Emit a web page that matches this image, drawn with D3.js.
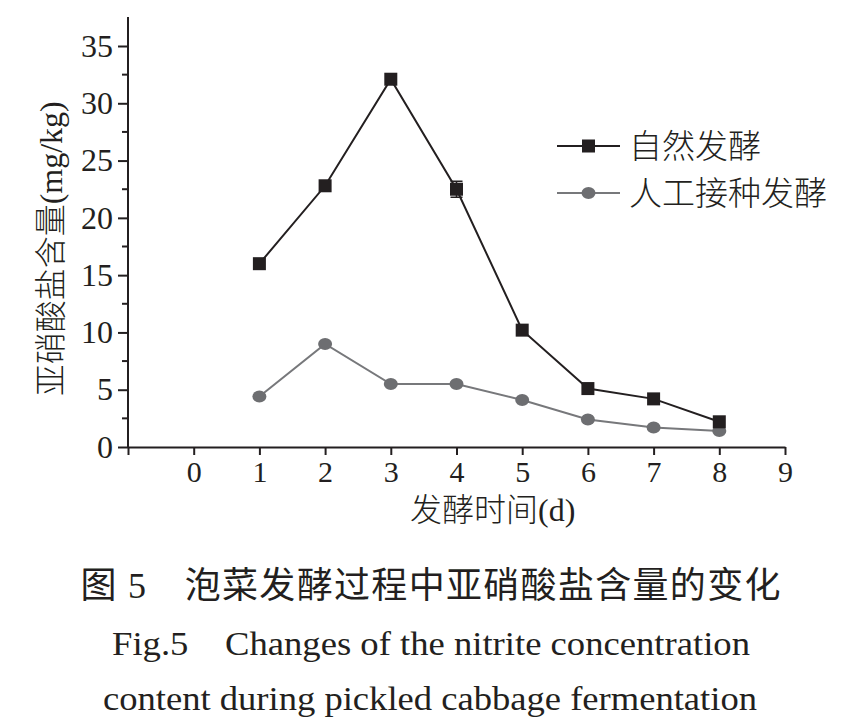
<!DOCTYPE html>
<html>
<head>
<meta charset="utf-8">
<script src="https://cdn.jsdelivr.net/npm/d3@7"></script>
<style>
  body { margin: 0; background: #fff; }
  svg { display: block; }
  .axis path, .axis line { stroke: #231f20; stroke-width: 2; }
  .axis text { font-family: "Liberation Serif", serif; fill: #231f20; }
</style>
</head>
<body>
<div id="chart-area"></div>
<script>
// data
var days = [1, 2, 3, 4, 5, 6, 7, 8];
var natural = [16.0, 22.8, 32.1, 22.5, 10.2, 5.1, 4.2, 2.2];
var naturalErr = [0, 0, 0, 0.7, 0, 0, 0, 0];
var inoculated = [4.4, 9.0, 5.5, 5.5, 4.1, 2.4, 1.7, 1.4];
var xTicks = [-1, 0, 1, 2, 3, 4, 5, 6, 7, 8, 9];
var xTickLabels = ["", "0", "1", "2", "3", "4", "5", "6", "7", "8", "9"];
var yTicks = [0, 5, 10, 15, 20, 25, 30, 35];
var yMinorTicks = [2.5, 7.5, 12.5, 17.5, 22.5, 27.5, 32.5];
var seriesNames = ["自然发酵", "人工接种发酵"];

var W = 867, H = 719;
var margin = {left: 128, top: 17, right: 82, bottom: 272};
var width = W - margin.left - margin.right,
    height = H - margin.top - margin.bottom;

var svg = d3.select("#chart-area")
    .append("svg")
        .attr("width", W)
        .attr("height", H);

var g = svg.append("g")
    .attr("transform", "translate(" + margin.left + ", " + margin.top + ")");

var x = d3.scaleLinear().domain([-1, 9]).range([0, width]);
// top of axis sits above 35
var y = d3.scaleLinear().domain([0, 35]).range([height, 29]);
var yTop = 0;

// x axis
var xAxis = d3.axisBottom(x)
    .tickValues(xTicks)
    .tickFormat((d, i) => xTickLabels[i])
    .tickSize(8)
    .tickPadding(6)
    .tickSizeOuter(0);
var xAxisGroup = g.append("g")
    .attr("class", "x axis")
    .attr("transform", "translate(0, " + height + ")")
    .call(xAxis);
xAxisGroup.selectAll("text").attr("font-size", 30);

// y axis
var yAxis = d3.axisLeft(y)
    .tickValues(yTicks)
    .tickSize(10)
    .tickPadding(5)
    .tickSizeOuter(0);
var yAxisGroup = g.append("g")
    .attr("class", "y axis")
    .call(yAxis);
yAxisGroup.select(".domain").attr("d", "M0," + height + "V" + yTop);
yAxisGroup.selectAll("text").attr("font-size", 32);
yAxisGroup.selectAll(".minor")
    .data(yMinorTicks)
    .enter().append("line")
        .attr("class", "minor")
        .attr("x1", -6).attr("x2", 0)
        .attr("y1", d => y(d)).attr("y2", d => y(d))
        .attr("stroke", "#231f20").attr("stroke-width", 2);

// axis titles
g.append("text")
    .attr("x", x(4.55))
    .attr("y", height + 74)
    .attr("text-anchor", "middle")
    .attr("font-family", "'Liberation Serif', 'Noto Sans CJK SC', serif")
    .attr("font-size", 32)
    .attr("font-weight", 300)
    .attr("fill", "#231f20")
    .text("发酵时间(d)");

g.append("text")
    .attr("transform", "translate(-66, " + y(17.3) + ") rotate(-90)")
    .attr("text-anchor", "middle")
    .attr("font-family", "'Liberation Serif', 'Noto Sans CJK SC', serif")
    .attr("font-size", 32)
    .attr("font-weight", 300)
    .attr("fill", "#231f20")
    .text("亚硝酸盐含量(mg/kg)");

var line = d3.line()
    .x((d, i) => x(days[i]))
    .y(d => y(d));

// artificial inoculation series (grey circles)
g.append("path")
    .datum(inoculated)
    .attr("fill", "none")
    .attr("stroke", "#77787b")
    .attr("stroke-width", 2)
    .attr("d", line);
g.selectAll(".dot")
    .data(inoculated)
    .enter().append("ellipse")
        .attr("class", "dot")
        .attr("cx", (d, i) => x(days[i]))
        .attr("cy", d => y(d))
        .attr("rx", 7).attr("ry", 6)
        .attr("fill", "#6d6e71");

// natural fermentation series (black squares)
g.append("path")
    .datum(natural)
    .attr("fill", "none")
    .attr("stroke", "#231f20")
    .attr("stroke-width", 2)
    .attr("d", line);

g.selectAll(".err")
    .data(natural)
    .enter().filter((d, i) => naturalErr[i] > 0)
    .append("path")
        .attr("class", "err")
        .attr("fill", "none")
        .attr("stroke", "#231f20")
        .attr("stroke-width", 1.5)
        .attr("d", function(d) {
            var i = natural.indexOf(d);
            var cx = x(days[i]), y1 = y(d + naturalErr[i]), y2 = y(d - naturalErr[i]);
            return "M" + (cx - 6) + "," + y1 + "H" + (cx + 6) +
                   "M" + cx + "," + y1 + "V" + y2 +
                   "M" + (cx - 6) + "," + y2 + "H" + (cx + 6);
        });

g.selectAll(".sq")
    .data(natural)
    .enter().append("rect")
        .attr("class", "sq")
        .attr("x", (d, i) => x(days[i]) - 6.5)
        .attr("y", d => y(d) - 6.5)
        .attr("width", 13).attr("height", 13)
        .attr("fill", "#231f20");

// legend
var legend = svg.append("g").attr("transform", "translate(557, 146)");
var legendRows = [
    {name: seriesNames[0], color: "#231f20", shape: "square"},
    {name: seriesNames[1], color: "#77787b", shape: "circle"}
];
legendRows.forEach((r, i) => {
    var row = legend.append("g").attr("transform", "translate(0, " + (i * 47) + ")");
    row.append("line")
        .attr("x1", 0).attr("x2", 63)
        .attr("stroke", r.color).attr("stroke-width", 2);
    if (r.shape === "square") {
        row.append("rect").attr("x", 25).attr("y", -6.5)
            .attr("width", 13).attr("height", 13).attr("fill", r.color);
    } else {
        row.append("ellipse").attr("cx", 31.5).attr("cy", 0)
            .attr("rx", 7).attr("ry", 6).attr("fill", "#6d6e71");
    }
    row.append("text")
        .attr("x", 72).attr("y", 12)
        .attr("font-family", "'Noto Sans CJK SC', serif")
        .attr("font-weight", 300)
        .attr("font-size", 33)
        .attr("fill", "#231f20")
        .text(r.name);
});

// caption
var caption = svg.append("g").attr("fill", "#231f20");
caption.append("text")
    .attr("x", W / 2 - 3).attr("y", 598)
    .attr("text-anchor", "middle")
    .attr("font-family", "'Liberation Serif', 'Noto Sans CJK SC', serif")
    .attr("font-size", 36)
    .attr("textLength", 700)
    .text("图 5　泡菜发酵过程中亚硝酸盐含量的变化");
caption.append("text")
    .attr("x", 112).attr("y", 655)
    .attr("font-family", "'Liberation Serif', serif")
    .attr("font-size", 34)
    .attr("textLength", 638)
    .attr("lengthAdjust", "spacingAndGlyphs")
    .text("Fig.5　Changes of the nitrite concentration");
caption.append("text")
    .attr("x", 103).attr("y", 710)
    .attr("font-family", "'Liberation Serif', serif")
    .attr("font-size", 34)
    .attr("textLength", 654)
    .attr("lengthAdjust", "spacingAndGlyphs")
    .text("content during pickled cabbage fermentation");
</script>
</body>
</html>
